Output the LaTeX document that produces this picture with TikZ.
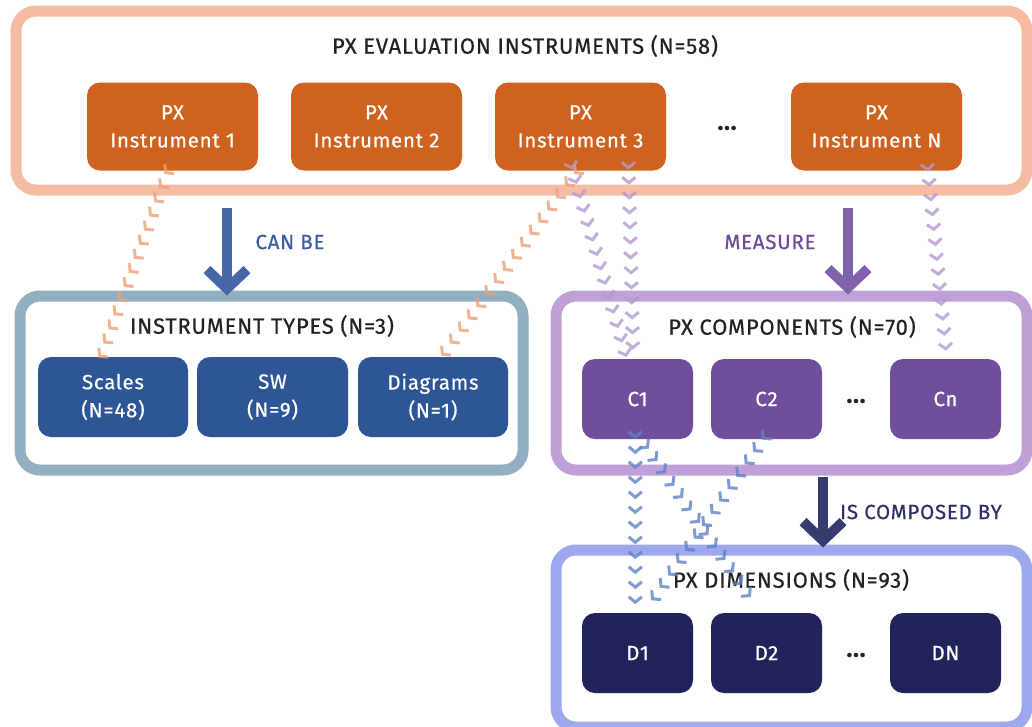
\documentclass[tikz,border=0pt]{standalone}
\usepackage{fontspec}
\setmainfont{Fira Sans}[LetterSpace=3.5, FakeBold=0.5]
\usetikzlibrary{decorations.markings,calc,arrows.meta}
\definecolor{topc}{HTML}{F5BBA3}
\definecolor{orangebox}{HTML}{CF621E}
\definecolor{typesc}{HTML}{93AFC2}
\definecolor{bluebox}{HTML}{2E5595}
\definecolor{canbec}{HTML}{4766A6}
\definecolor{canbet}{HTML}{3D5CA3}
\definecolor{compc}{HTML}{BFA1D8}
\definecolor{purplebox}{HTML}{6F4F9B}
\definecolor{measurec}{HTML}{7F62AA}
\definecolor{measuret}{HTML}{6A4C9C}
\definecolor{dimsc}{HTML}{9DA8EE}
\definecolor{navybox}{HTML}{22235A}
\definecolor{composedc}{HTML}{363C70}
\definecolor{composedt}{HTML}{2C3069}
\definecolor{chevor}{HTML}{EDA27A}
\definecolor{chevpu}{HTML}{B29BD0}
\definecolor{chevbl}{HTML}{5F83C4}
\definecolor{titlec}{HTML}{222222}
\tikzset{
  container/.style={draw=#1, line width=11pt, rounded corners=20pt, fill=white, inner sep=0pt},
  innerbox/.style={fill=#1, rounded corners=13pt, text=white, align=center, inner sep=0pt,
    font=\fontsize{20.5}{28}\selectfont},
  boxtitle/.style={text=titlec, font=\fontsize{22}{26}\selectfont, inner sep=0pt},
  dotsnode/.style={text=#1, font=\fontsize{24}{26}\selectfont\bfseries, inner sep=0pt},
  biglabel/.style={text=#1, font=\fontsize{20.5}{24}\selectfont, inner sep=0pt},
  bigarrow/.style={draw=#1, line width=10pt, -{Straight Barb[length=19pt,width=40pt,line width=10pt]}},
  chev/.style 2 args={postaction={decorate}, decoration={markings,
    mark=between positions 0 and 1 step 15pt with {\pgftransformresetnontranslations
      \draw[draw=#1, draw opacity=0.8, line width=3pt, rotate=#2, miter limit=4]
        (-5.4,6.6) -- (0,0) -- (-5.4,-6.6);}}},
}
\begin{document}
\begin{tikzpicture}[x=1pt,y=-1pt]
\useasboundingbox (0,0) rectangle (1032,726);
\fill[white] (0,0) rectangle (1032,726);

% containers
\node[container=topc, minimum width=1011pt, minimum height=179pt] (top) at (521.5,100.5) {};
\node[container=typesc, minimum width=503pt, minimum height=174pt] (types) at (271.5,383) {};
\node[container=compc, minimum width=471pt, minimum height=174pt] (comp) at (791.5,383) {};
\node[container=dimsc, minimum width=471pt, minimum height=177pt] (dims) at (791.5,638.5) {};

% titles
\node[boxtitle] (ttop) at (525,46) {PX EVALUATION INSTRUMENTS (N=58)};
\node[boxtitle] (ttypes) at (262,326) {INSTRUMENT TYPES (N=3)};
\node[boxtitle] (tcomp) at (792,327) {PX COMPONENTS (N=70)};
\node[boxtitle] (tdims) at (791,580) {PX DIMENSIONS (N=93)};

% instruments
\node[innerbox=orangebox, minimum width=171pt, minimum height=88pt] (i1) at (172.5,126.5) {PX\\Instrument 1};
\node[innerbox=orangebox, minimum width=171pt, minimum height=88pt] (i2) at (376.5,126.5) {PX\\Instrument 2};
\node[innerbox=orangebox, minimum width=171pt, minimum height=88pt] (i3) at (580.5,126.5) {PX\\Instrument 3};
\node[dotsnode=titlec] (idots) at (727,128) {...};
\node[innerbox=orangebox, minimum width=171pt, minimum height=88pt] (iN) at (876.5,126.5) {PX\\Instrument N};

% types
\node[innerbox=bluebox, minimum width=150pt, minimum height=80pt] (scales) at (113,397) {Scales\\(N=48)};
\node[innerbox=bluebox, minimum width=151pt, minimum height=80pt] (sw) at (272.5,397) {SW\\(N=9)};
\node[innerbox=bluebox, minimum width=150pt, minimum height=80pt] (diag) at (433,397) {Diagrams\\(N=1)};

% components
\node[innerbox=purplebox, minimum width=111pt, minimum height=80pt] (c1) at (637.5,399) {C1};
\node[innerbox=purplebox, minimum width=111pt, minimum height=80pt] (c2) at (766.5,399) {C2};
\node[dotsnode=titlec] (cdots) at (856,401) {...};
\node[innerbox=purplebox, minimum width=111pt, minimum height=80pt] (cn) at (945.5,399) {Cn};

% dimensions
\node[innerbox=navybox, minimum width=111pt, minimum height=80pt] (d1) at (637.5,653) {D1};
\node[innerbox=navybox, minimum width=111pt, minimum height=80pt] (d2) at (766.5,653) {D2};
\node[dotsnode=titlec] (ddots) at (856,655) {...};
\node[innerbox=navybox, minimum width=111pt, minimum height=80pt] (dn) at (945.5,653) {DN};

% big arrows
\coordinate (xa) at (227,0);
\coordinate (xb) at (848,0);
\coordinate (xc) at (823,0);
\draw[bigarrow=canbec] ([yshift=-12pt]top.south -| xa) -- ([yshift=-5pt]types.north -| xa);
\draw[bigarrow=measurec] ([yshift=-12pt]top.south -| xb) -- ([yshift=-4pt]comp.north -| xb);
\draw[bigarrow=composedc] ([yshift=-1pt]comp.south -| xc) -- ([yshift=-3pt]dims.north -| xc);
\node[biglabel=canbet] (lcan) at (290,242) {CAN BE};
\node[biglabel=measuret] (lmeas) at (770,242) {MEASURE};
\node[biglabel=composedt] (lcomp) at (921,512) {IS COMPOSED BY};

% chevron connectors
\path[chev={chevor}{-135}] ($(i1.south west)!0.46!(i1.south east)+(0,2)$) -- ($(scales.north west)!0.41!(scales.north east)$);
\path[chev={chevor}{-135}] ($(i3.south west)!0.47!(i3.south east)+(0,2)$) -- ($(diag.north west)!0.55!(diag.north east)$);
\path[chev={chevpu}{-75}] ($(i3.south west)!0.45!(i3.south east)+(0,-3)$) -- ($(c1.north west)!0.40!(c1.north east)+(0,-2)$);
\path[chev={chevpu}{-90}] ($(i3.south west)!0.78!(i3.south east)+(0,-3)$) -- ($(c1.north west)!0.46!(c1.north east)+(0,-2)$);
\path[chev={chevpu}{-85}] ($(iN.south west)!0.8!(iN.south east)+(0,-1)$) -- ($(cn.north west)!0.51!(cn.north east)+(0,-2)$);
\path[chev={chevbl}{-90}] ($(c1.south west)!0.48!(c1.south east)+(0,-2)$) -- ($(d1.north west)!0.48!(d1.north east)$);
\path[chev={chevbl}{-45}] ($(c1.south west)!0.59!(c1.south east)+(0,8)$) -- ($(d2.north west)!0.38!(d2.north east)+(0,-12)$);
\path[chev={chevbl}{-135}] ($(c2.south west)!0.47!(c2.south east)+(0,-1)$) -- ($(d1.north west)!0.61!(d1.north east)+(0,-10)$);
\end{tikzpicture}
\end{document}
